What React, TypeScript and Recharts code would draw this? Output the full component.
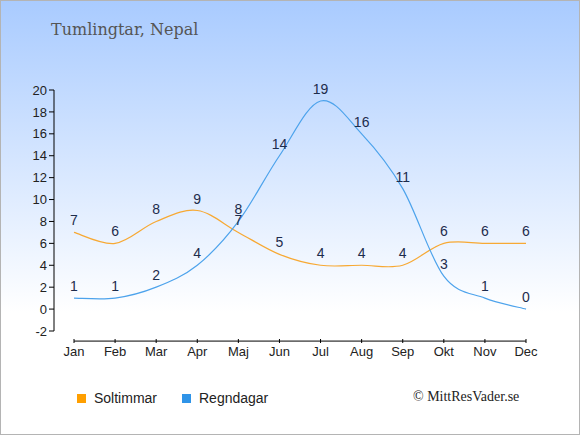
import { LineChart, Line, XAxis, YAxis, LabelList, ReferenceLine } from 'recharts';

const months = ['Jan', 'Feb', 'Mar', 'Apr', 'Maj', 'Jun', 'Jul', 'Aug', 'Sep', 'Okt', 'Nov', 'Dec'];
const sunHours = [7, 6, 8, 9, 7, 5, 4, 4, 4, 6, 6, 6];
const rainDays = [1, 1, 2, 4, 8, 14, 19, 16, 11, 3, 1, 0];
const yTicks = [-2, 0, 2, 4, 6, 8, 10, 12, 14, 16, 18, 20];

const ORANGE = '#ff9f00';
const BLUE = '#2f94e8';
const LABEL = '#1d2c4c';
const SANS = '"Liberation Sans", Arial, sans-serif';
const SERIF = '"DejaVu Serif", serif';

const chartData = months.map((m, i) => ({ month: m, sun: sunHours[i], rain: rainDays[i] }));

// catmull-rom style spline (cardinal, tension 0) so the line eases through points like the original
function smoothCurve(context: any) {
  let pts: [number, number][] = [];
  return {
    areaStart() {},
    areaEnd() {},
    lineStart() {
      pts = [];
    },
    point(x: number, y: number) {
      pts.push([+x, +y]);
    },
    lineEnd() {
      if (!pts.length) return;
      context.moveTo(pts[0][0], pts[0][1]);
      const k = 1 / 6;
      for (let i = 0; i < pts.length - 1; i++) {
        const p0 = pts[Math.max(i - 1, 0)];
        const p1 = pts[i];
        const p2 = pts[i + 1];
        const p3 = pts[Math.min(i + 2, pts.length - 1)];
        context.bezierCurveTo(
          p1[0] + k * (p2[0] - p0[0]),
          p1[1] + k * (p2[1] - p0[1]),
          p2[0] - k * (p3[0] - p1[0]),
          p2[1] - k * (p3[1] - p1[1]),
          p2[0],
          p2[1],
        );
      }
    },
  };
}

function MonthTick(props: any) {
  const { x, y, payload } = props;
  return (
    <g>
      <line x1={x} x2={x} y1={y + 8} y2={y + 12} stroke="#000" />
      <text x={x} y={y + 25} textAnchor="middle" fontSize={13} fontFamily={SANS} fill="#222">
        {payload.value}
      </text>
    </g>
  );
}

function LegendItem({ color, text, left }: { color: string; text: string; left: number }) {
  return (
    <div style={{ position: 'absolute', left, top: 389, display: 'flex', alignItems: 'center' }}>
      <div style={{ width: 9, height: 9, background: color, marginRight: 8 }} />
      <span style={{ fontFamily: SANS, fontSize: 14, color: '#222' }}>{text}</span>
    </div>
  );
}

export default function App() {
  return (
    <div
      style={{
        position: 'absolute',
        left: 0,
        top: 0,
        width: 580,
        height: 435,
        boxSizing: 'border-box',
        border: '1px solid #b4b4b4',
        background: 'linear-gradient(to bottom, #a9cbff 0%, #ffffff 72%, #ffffff 100%)',
        overflow: 'hidden',
      }}
    >
      <div
        style={{
          position: 'absolute',
          left: 50,
          top: 19,
          fontFamily: SERIF,
          fontSize: 16,
          color: '#555',
        }}
      >
        Tumlingtar, Nepal
      </div>
      <div style={{ position: 'absolute', left: -1, top: -1 }}>
        <LineChart width={580} height={435} data={chartData} margin={{ top: 90, right: 34, bottom: 74, left: 0 }}>
          <XAxis
            dataKey="month"
            axisLine={false}
            tickLine={false}
            tickSize={0}
            tickMargin={0}
            padding={{ left: 20, right: 20 }}
            tick={<MonthTick />}
            interval={0}
            height={30}
          />
          <YAxis
            width={54}
            domain={[-2, 20]}
            ticks={yTicks}
            interval={0}
            stroke="#000"
            tickSize={5}
            tick={{ fill: '#222', fontSize: 13, fontFamily: SANS }}
          />
          <ReferenceLine
            segment={[{ x: 'Jan', y: -2.92 }, { x: 'Dec', y: -2.92 }]}
            stroke="#000"
            ifOverflow="visible"
          />
          <Line
            type={smoothCurve as any}
            dataKey="sun"
            stroke="#f7a934"
            strokeWidth={1.2}
            dot={false}
            isAnimationActive={false}
          >
            <LabelList dataKey="sun" position="top" offset={7} fill={LABEL} fontSize={14} fontFamily={SANS} />
          </Line>
          <Line
            type={smoothCurve as any}
            dataKey="rain"
            stroke="#4da3ec"
            strokeWidth={1.2}
            dot={false}
            isAnimationActive={false}
          >
            <LabelList dataKey="rain" position="top" offset={7} fill={LABEL} fontSize={14} fontFamily={SANS} />
          </Line>
        </LineChart>
      </div>
      <LegendItem color={ORANGE} text="Soltimmar" left={76} />
      <LegendItem color={BLUE} text="Regndagar" left={181} />
      <div
        style={{
          position: 'absolute',
          left: 412,
          top: 388,
          fontFamily: '"Liberation Serif", serif',
          fontSize: 14,
          color: '#222',
        }}
      >
        © MittResVader.se
      </div>
    </div>
  );
}
